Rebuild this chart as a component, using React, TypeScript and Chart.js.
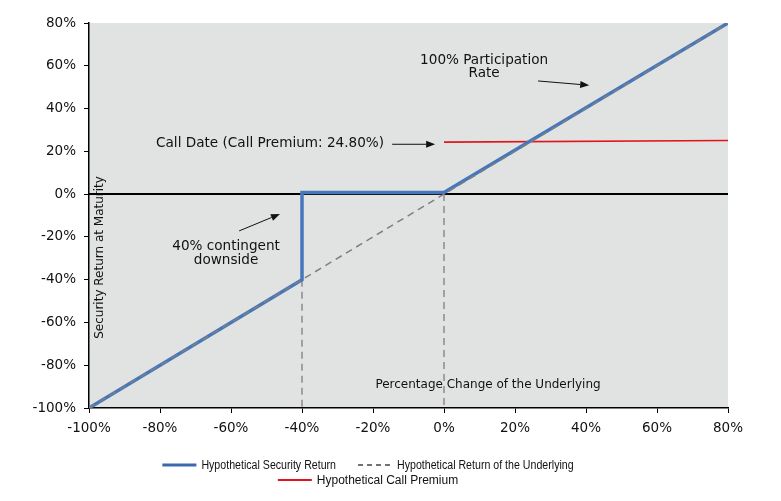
import { useEffect, useRef } from 'react'
import { Chart, ScatterController, LineElement, PointElement, LinearScale } from 'chart.js'
import type { Plugin } from 'chart.js'

Chart.register(ScatterController, LineElement, PointElement, LinearScale)

// payoff lines, in % change of the underlying (x) vs % return (y)
const securityX = [-100, -40, -40, 0, 80]
const securityY = [-100, -40, 0.8, 0.8, 80]
const underlyingX = [-100, 80]
const underlyingY = [-100, 80]
const premiumX = [0, 80]
const premiumY = [24.3, 25.1]
// dashed drop lines down to the x axis
const dropX = [-40, 0]
const dropTop = [-40, 0]

const axisMin = -100
const axisMax = 80
const axisStep = 20

const seriesLabels = [
  'Hypothetical Security Return',
  'Hypothetical Return of the Underlying',
  'Hypothetical Call Premium',
]

// annotation texts, anchored in data units
const noteText = [['100% Participation', 'Rate'], ['Call Date (Call Premium: 24.80%)'], ['40% contingent', 'downside']]
const noteX = [11.3, -49, -61.4]
const noteY = [62.7, 23.8, -24.7]
const arrowFrom = [[26.5, 52.9], [-14.6, 23.3], [-57.7, -17.2]]
const arrowTo = [[40.9, 50.9], [-2.5, 23.3], [-46.2, -9.3]]

const BLUE = '#4677bb'
const GREY = '#7f7f7f'
const RED = '#e0161b'

const toPoints = (xs: number[], ys: number[]) => xs.map((x, i) => ({ x, y: ys[i] }))

function drawArrow(ctx: CanvasRenderingContext2D, x1: number, y1: number, x2: number, y2: number) {
  const a = Math.atan2(y2 - y1, x2 - x1)
  const head = 9
  const half = 3.5
  const bx = x2 - head * Math.cos(a)
  const by = y2 - head * Math.sin(a)
  ctx.beginPath()
  ctx.moveTo(x1, y1)
  ctx.lineTo(bx, by)
  ctx.stroke()
  ctx.beginPath()
  ctx.moveTo(x2, y2)
  ctx.lineTo(bx + half * Math.sin(a), by - half * Math.cos(a))
  ctx.lineTo(bx - half * Math.sin(a), by + half * Math.cos(a))
  ctx.closePath()
  ctx.fill()
}

const decor: Plugin<'scatter'> = {
  id: 'decor',
  beforeDraw(chart) {
    const { ctx, chartArea: a } = chart
    ctx.save()
    ctx.fillStyle = '#e1e2e2'
    ctx.fillRect(a.left, a.top, a.right - a.left, a.bottom - a.top)
    ctx.restore()
  },
  beforeDatasetsDraw(chart) {
    const { ctx, chartArea: a } = chart
    const xs = chart.scales.x
    const ys = chart.scales.y
    ctx.save()
    ctx.fillStyle = '#111'
    ctx.font = '12px "DejaVu Sans"'
    ctx.textAlign = 'center'
    ctx.textBaseline = 'middle'
    ctx.fillText('Percentage Change of the Underlying', xs.getPixelForValue(12.4), ys.getPixelForValue(-89.2))
    ctx.save()
    ctx.translate(xs.getPixelForValue(-96.9), ys.getPixelForValue(-29.6))
    ctx.rotate(-Math.PI / 2)
    ctx.fillText('Security Return at Maturity', 0, 0)
    ctx.restore()
    // zero line
    const y0 = ys.getPixelForValue(0)
    ctx.strokeStyle = '#000'
    ctx.lineWidth = 2
    ctx.beginPath()
    ctx.moveTo(a.left, y0)
    ctx.lineTo(a.right, y0)
    ctx.stroke()
    ctx.restore()
  },
  afterDatasetsDraw(chart) {
    const { ctx } = chart
    const xs = chart.scales.x
    const ys = chart.scales.y
    ctx.save()
    ctx.fillStyle = '#111'
    ctx.strokeStyle = '#111'
    ctx.lineWidth = 1
    ctx.font = '13.6px "DejaVu Sans"'
    ctx.textAlign = 'center'
    ctx.textBaseline = 'middle'
    noteText.forEach((lines, i) => {
      const px = xs.getPixelForValue(noteX[i])
      const py = ys.getPixelForValue(noteY[i])
      lines.forEach((t, j) => ctx.fillText(t, px, py + j * 13.5))
      drawArrow(
        ctx,
        xs.getPixelForValue(arrowFrom[i][0]), ys.getPixelForValue(arrowFrom[i][1]),
        xs.getPixelForValue(arrowTo[i][0]), ys.getPixelForValue(arrowTo[i][1]),
      )
    })
    ctx.restore()
  },
  afterDraw(chart) {
    // two-row legend under the axis; first row is set in a squeezed face
    const { ctx } = chart
    const items = [
      { text: seriesLabels[0], color: '#3a69ad', dash: [] as number[], width: 3, font: '12.5px "Liberation Sans"', squeeze: 0.85 },
      { text: seriesLabels[1], color: '#444', dash: [5, 4], width: 1.5, font: '12.5px "Liberation Sans"', squeeze: 0.85 },
      { text: seriesLabels[2], color: RED, dash: [] as number[], width: 2, font: '12px "Liberation Sans"', squeeze: 1 },
    ]
    const rows = [[0, 1], [2]]
    const rowY = [465, 480]
    const lineLen = 34
    const gap = 22
    const centre = 368
    ctx.save()
    ctx.textBaseline = 'middle'
    ctx.textAlign = 'left'
    rows.forEach((row, r) => {
      const widths = row.map(k => {
        ctx.font = items[k].font
        return lineLen + 5 + ctx.measureText(items[k].text).width * items[k].squeeze
      })
      const total = widths.reduce((s, w) => s + w, 0) + (row.length - 1) * gap
      let x = centre - total / 2
      row.forEach((k, j) => {
        const it = items[k]
        ctx.strokeStyle = it.color
        ctx.lineWidth = it.width
        ctx.setLineDash(it.dash)
        ctx.beginPath()
        ctx.moveTo(x, rowY[r])
        ctx.lineTo(x + lineLen, rowY[r])
        ctx.stroke()
        ctx.setLineDash([])
        ctx.font = it.font
        ctx.fillStyle = '#111'
        ctx.save()
        ctx.translate(x + lineLen + 5, rowY[r] + 0.5)
        ctx.scale(it.squeeze, 1)
        ctx.fillText(it.text, 0, 0)
        ctx.restore()
        x += widths[j] + gap
      })
    })
    ctx.restore()
  },
}

export default function App() {
  const canvasRef = useRef<HTMLCanvasElement>(null)
  const chartRef = useRef<Chart | null>(null)

  useEffect(() => {
    const canvas = canvasRef.current
    if (!canvas) return
    const ctx = canvas.getContext('2d')
    if (!ctx) return

    const lineDefaults = { showLine: true, pointRadius: 0, pointHoverRadius: 0, tension: 0, fill: false }
    const axis = (afterFit: (s: any) => void, padding: number) => ({
      type: 'linear' as const,
      min: axisMin,
      max: axisMax,
      ticks: {
        stepSize: axisStep,
        padding,
        color: '#111',
        font: { family: '"DejaVu Sans"', size: 13.5 },
        callback: (v: number | string) => `${v}%`,
      },
      grid: { drawOnChartArea: false, tickLength: 5, color: '#000', tickWidth: 1 },
      border: { color: '#000', width: 1.5 },
      afterFit,
    })

    chartRef.current = new Chart(ctx, {
      type: 'scatter',
      data: {
        datasets: [
          {
            ...lineDefaults,
            label: seriesLabels[1],
            data: toPoints(underlyingX, underlyingY),
            borderColor: GREY,
            borderWidth: 1.5,
            borderDash: [7, 5],
            order: 0,
          },
          {
            ...lineDefaults,
            label: seriesLabels[0],
            data: toPoints(securityX, securityY),
            borderColor: BLUE,
            borderWidth: 3.5,
            borderJoinStyle: 'miter',
            order: 1,
          },
          {
            ...lineDefaults,
            label: seriesLabels[2],
            data: toPoints(premiumX, premiumY),
            borderColor: RED,
            borderWidth: 1.6,
            order: 2,
          },
          ...dropX.map((x, i) => ({
            ...lineDefaults,
            label: '',
            data: [{ x, y: dropTop[i] }, { x, y: axisMin }],
            borderColor: GREY,
            borderWidth: 1.3,
            borderDash: [7, 5],
            order: 3,
          })),
        ],
      },
      options: {
        animation: false,
        responsive: true,
        maintainAspectRatio: false,
        layout: { padding: { left: 0, top: 23, right: 53, bottom: 63 } },
        plugins: {
          legend: { display: false },
          tooltip: { enabled: false },
        },
        scales: {
          x: axis((s) => { s.height = 30 }, 7),
          y: axis((s) => { s.width = 89 }, 8),
        },
      },
      plugins: [decor],
    })

    return () => {
      if (chartRef.current) {
        chartRef.current.destroy()
        chartRef.current = null
      }
    }
  }, [])

  return (
    <div style={{ position: 'fixed', left: 0, top: 0, width: 781, height: 501, background: '#fff' }}>
      <canvas ref={canvasRef} />
    </div>
  )
}
